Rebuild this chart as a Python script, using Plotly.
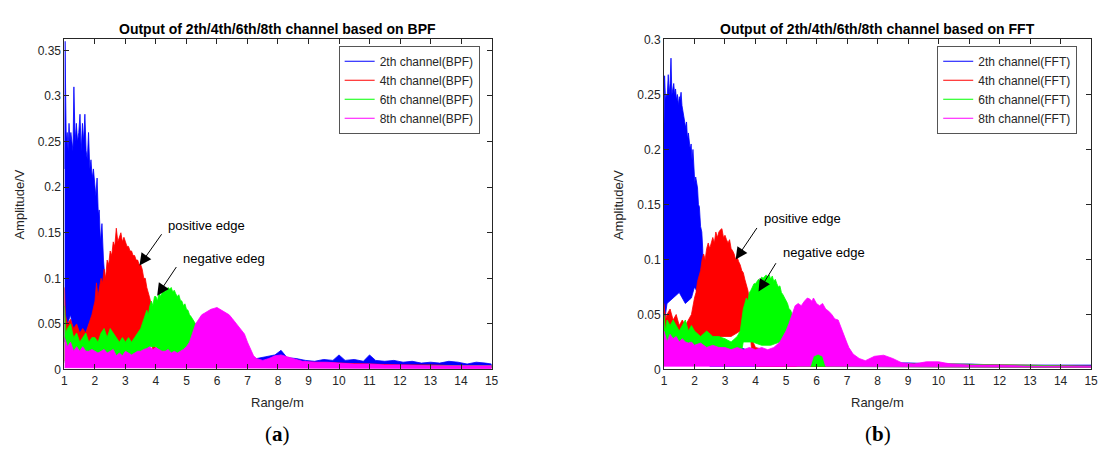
import plotly.graph_objects as go

# ---------------- data ----------------
# (a) BPF ---------------------------------------------------
bpf_ch2_x = [1.00,1.02,1.04,1.06,1.09,1.12,1.15,1.18,1.21,1.25,
             1.28,1.31,1.35,1.39,1.43,1.47,1.51,1.55,1.59,1.63,
             1.67,1.71,1.75,1.79,1.83,1.87,1.91,1.95,1.99,2.03,
             2.07,2.11,2.14,2.18,2.23,2.28,2.35,2.50,2.80,3.20,
             3.60,4.00,4.50,5.00,5.50,6.00,6.50,7.00,7.30,7.60,
             7.90,8.10,8.30,8.60,8.90,9.20,9.50,9.80,10.0,10.2,
             10.5,10.8,11.0,11.2,11.5,11.8,12.1,12.4,12.7,13.0,
             13.3,13.6,13.9,14.2,14.5,14.8,15.0]
bpf_ch2_hi = [.22,.36,.30,.25,.26,.24,.27,.25,.26,.25,
              .24,.31,.25,.27,.25,.26,.28,.24,.27,.25,
              .28,.24,.23,.26,.22,.23,.21,.22,.20,.19,
              .21,.17,.175,.14,.16,.12,.09,.06,.04,.03,
              .025,.02,.015,.012,.010,.010,.010,.009,.012,.014,
              .016,.021,.013,.012,.010,.009,.011,.010,.016,.010,
              .011,.009,.016,.010,.009,.010,.008,.009,.007,.008,
              .007,.009,.008,.006,.008,.007,.006]
bpf_ch2_lo_x = [1.0,1.1,1.2,1.3,1.4,1.5,1.6,1.7,1.8,1.9,2.0,2.1,2.2,2.3,2.5,15.0]
bpf_ch2_lo = [.03,.05,.06,.04,.05,.03,.02,.04,.05,.05,.06,.05,.04,.02,.003,.003]

bpf_ch4_x = [1.00,1.03,1.10,1.20,1.30,1.40,1.50,1.60,1.70,1.80,
             1.90,2.00,2.05,2.10,2.15,2.20,2.25,2.30,2.35,2.40,
             2.45,2.50,2.55,2.60,2.65,2.70,2.75,2.80,2.85,2.90,
             2.95,3.00,3.05,3.10,3.15,3.20,3.25,3.30,3.35,3.40,
             3.45,3.50,3.55,3.60,3.65,3.70,3.75,3.80,3.85,3.90,
             3.95,4.20,4.60,5.00,5.50,6.00,6.10,6.50,7.00,7.50,
             8.00,8.50,9.00,10.0,11.0,12.0,13.0,14.0,15.0]
bpf_ch4_hi = [.09,.06,.05,.055,.045,.05,.04,.045,.04,.05,
              .06,.075,.095,.08,.09,.10,.095,.11,.10,.12,
              .115,.13,.125,.14,.135,.155,.14,.145,.15,.14,
              .145,.14,.135,.135,.13,.13,.125,.125,.12,.12,
              .115,.115,.11,.10,.10,.09,.085,.078,.07,.05,
              .025,.018,.014,.012,.010,.012,.018,.010,.008,.007,
              .012,.009,.008,.007,.006,.005,.005,.004,.004]
bpf_ch4_lo_x = [1.0,1.5,2.0,2.2,2.5,2.8,3.0,3.2,3.4,3.6,3.8,3.9,4.0,15.0]
bpf_ch4_lo = [.01,.005,.01,.03,.02,.015,.015,.02,.03,.04,.05,.02,.003,.002]

bpf_ch6_x = [1.00,1.05,1.10,1.20,1.30,1.40,1.50,1.60,1.70,1.80,
             1.90,2.00,2.10,2.20,2.30,2.40,2.50,2.60,2.70,2.80,
             2.90,3.00,3.10,3.20,3.30,3.40,3.50,3.55,3.60,3.65,
             3.70,3.75,3.80,3.85,3.90,3.95,4.00,4.05,4.10,4.15,
             4.20,4.25,4.30,4.35,4.40,4.45,4.50,4.55,4.60,4.65,
             4.70,4.75,4.80,4.85,4.90,4.95,5.00,5.05,5.10,5.15,
             5.20,5.25,5.30,5.35,5.50,6.00,6.50,7.00,7.50,8.00,
             8.50,9.00,10.0,11.0,12.0,13.0,14.0,15.0]
bpf_ch6_hi = [.07,.04,.045,.05,.035,.04,.03,.035,.04,.03,
              .035,.035,.03,.04,.045,.035,.045,.04,.035,.03,
              .035,.03,.035,.03,.035,.04,.045,.05,.055,.06,
              .065,.06,.07,.075,.07,.08,.08,.075,.085,.08,
              .085,.088,.085,.088,.09,.088,.09,.085,.087,.083,
              .08,.082,.076,.075,.07,.072,.066,.065,.06,.058,
              .055,.052,.05,.025,.012,.01,.008,.006,.008,.01,
              .006,.005,.005,.004,.004,.004,.004,.004]
bpf_ch6_lo_x = [1.0,3.5,3.6,3.8,4.0,4.3,4.5,4.8,5.0,5.2,5.3,5.4,15.0]
bpf_ch6_lo = [.008,.008,.02,.025,.025,.015,.012,.015,.02,.03,.02,.003,.002]

bpf_ch8_x = [1.00,1.05,1.10,1.20,1.30,1.40,1.50,1.60,1.70,1.80,
             1.90,2.00,2.10,2.20,2.30,2.40,2.50,2.60,2.70,2.80,
             2.90,3.00,3.10,3.20,3.30,3.40,3.50,3.60,3.70,3.80,
             3.90,4.00,4.10,4.20,4.30,4.40,4.50,4.60,4.70,4.80,
             4.90,5.00,5.10,5.20,5.30,5.40,5.50,5.60,5.70,5.80,
             5.90,6.00,6.10,6.20,6.30,6.40,6.50,6.60,6.70,6.80,
             6.90,7.00,7.10,7.20,7.30,7.50,7.70,7.90,8.10,8.30,
             8.50,8.80,9.20,9.60,10.0,10.5,11.0,11.5,12.0,13.0,
             14.0,15.0]
bpf_ch8_hi = [.035,.03,.025,.03,.02,.025,.02,.025,.02,.02,
              .022,.02,.018,.02,.022,.018,.02,.022,.015,.018,
              .015,.02,.018,.016,.018,.02,.02,.022,.023,.025,
              .022,.024,.022,.02,.02,.022,.018,.02,.018,.02,
              .022,.025,.03,.04,.05,.055,.06,.062,.064,.066,
              .067,.068,.066,.064,.062,.06,.056,.052,.048,.044,
              .039,.03,.022,.015,.012,.01,.012,.015,.016,.014,
              .012,.009,.008,.008,.007,.006,.006,.005,.005,.004,
              .004,.004]
bpf_ch8_lo_x = [1.0, 15.0]
bpf_ch8_lo = [.002, .001]

# (b) FFT ---------------------------------------------------
fft_ch2_x = [1.00,1.02,1.05,1.08,1.11,1.14,1.17,1.20,1.23,1.26,
             1.29,1.32,1.35,1.38,1.41,1.44,1.47,1.50,1.53,1.56,
             1.59,1.62,1.65,1.68,1.71,1.74,1.77,1.80,1.83,1.86,
             1.89,1.92,1.95,1.98,2.01,2.04,2.07,2.10,2.13,2.16,
             2.20,2.24,2.27,2.31,2.40,2.60,3.00,3.50,4.00,4.50,
             5.00,5.50,6.00,6.50,7.00,8.00,9.00,10.0,11.0,12.0,
             13.0,14.0,15.0]
fft_ch2_hi = [.22,.267,.245,.25,.25,.268,.25,.26,.283,.25,
              .255,.26,.25,.255,.245,.25,.24,.248,.245,.252,
              .24,.235,.23,.225,.22,.225,.21,.215,.205,.2,
              .205,.19,.2,.185,.17,.175,.17,.165,.15,.148,
              .13,.125,.11,.06,.04,.03,.025,.02,.015,.012,
              .01,.009,.008,.008,.007,.006,.006,.005,.005,.004,
              .004,.004,.004]
fft_ch2_lo_x = [1.0,1.1,1.3,1.5,1.7,1.9,2.0,2.1,2.2,2.3,2.5,15.0]
fft_ch2_lo = [.04,.06,.065,.07,.06,.065,.075,.07,.08,.03,.003,.002]

fft_ch4_x = [1.00,1.05,1.10,1.20,1.30,1.40,1.50,1.60,1.70,1.80,
             1.90,2.00,2.05,2.10,2.15,2.20,2.25,2.30,2.35,2.40,
             2.45,2.50,2.55,2.60,2.65,2.70,2.75,2.80,2.85,2.90,
             2.95,3.00,3.05,3.10,3.15,3.20,3.25,3.30,3.35,3.40,
             3.45,3.50,3.55,3.60,3.65,3.70,3.75,3.81,3.86,3.92,
             4.00,4.30,4.60,5.00,5.50,6.00,6.50,7.00,8.00,9.00,
             10.0,12.0,15.0]
fft_ch4_hi = [.06,.045,.05,.055,.045,.05,.04,.045,.04,.045,
              .05,.065,.07,.08,.085,.09,.10,.105,.10,.11,
              .115,.11,.115,.12,.115,.125,.12,.125,.127,.128,
              .12,.122,.118,.115,.118,.11,.108,.105,.10,.102,
              .098,.095,.09,.088,.082,.078,.072,.062,.04,.025,
              .02,.018,.015,.015,.012,.01,.008,.006,.006,.005,
              .005,.004,.003]
fft_ch4_lo_x = [1.0,2.0,2.1,2.3,2.6,2.9,3.2,3.5,3.7,3.8,3.9,4.0,15.0]
fft_ch4_lo = [.005,.01,.03,.03,.025,.03,.03,.035,.04,.04,.01,.003,.002]

fft_ch6_x = [1.00,1.05,1.10,1.20,1.30,1.40,1.50,1.60,1.70,1.80,
             1.90,2.00,2.20,2.40,2.60,2.80,3.00,3.20,3.40,3.50,
             3.55,3.60,3.65,3.70,3.75,3.80,3.85,3.90,3.95,4.00,
             4.05,4.10,4.15,4.20,4.25,4.30,4.35,4.40,4.45,4.50,
             4.55,4.60,4.65,4.70,4.75,4.80,4.85,4.90,4.95,5.00,
             5.05,5.10,5.15,5.20,5.25,5.30,5.35,5.50,5.80,6.00,
             6.20,6.40,6.60,6.80,7.00,7.50,8.00,9.00,10.0,12.0,
             15.0]
fft_ch6_hi = [.05,.035,.045,.04,.045,.04,.035,.04,.045,.035,
              .04,.035,.03,.035,.03,.03,.028,.025,.03,.035,
              .045,.055,.06,.065,.062,.07,.072,.075,.078,.078,
              .08,.082,.08,.084,.083,.085,.086,.084,.086,.082,
              .085,.08,.082,.078,.075,.076,.07,.068,.065,.062,
              .06,.055,.054,.05,.048,.04,.02,.015,.018,.022,
              .02,.018,.015,.012,.01,.006,.006,.005,.005,.004,
              .003]
fft_ch6_lo_x = [1.0,3.5,3.6,3.9,4.2,4.5,4.8,5.0,5.25,5.35,15.0]
fft_ch6_lo = [.005,.01,.025,.025,.022,.022,.025,.03,.035,.003,.002]

fft_ch8_x = [1.00,1.05,1.10,1.20,1.30,1.40,1.50,1.60,1.70,1.80,
             1.90,2.00,2.20,2.40,2.60,2.80,3.00,3.20,3.40,3.60,
             3.80,4.00,4.20,4.40,4.60,4.80,4.90,5.00,5.10,5.20,
             5.30,5.40,5.50,5.60,5.70,5.78,5.85,5.90,6.00,6.10,
             6.20,6.30,6.40,6.50,6.60,6.71,6.80,6.90,7.00,7.06,
             7.20,7.40,7.60,7.90,8.20,8.50,8.80,9.20,9.60,10.0,
             10.4,11.0,12.0,13.0,14.0,15.0]
fft_ch8_hi = [.035,.03,.025,.032,.028,.03,.025,.028,.025,.024,
              .025,.022,.024,.02,.022,.02,.02,.018,.02,.018,
              .02,.018,.02,.018,.02,.025,.03,.035,.042,.05,
              .058,.06,.058,.062,.065,.064,.062,.065,.06,.058,
              .06,.055,.053,.05,.046,.045,.038,.03,.024,.02,
              .014,.01,.008,.012,.013,.01,.006,.005,.007,.007,
              .005,.004,.004,.003,.003,.003]
fft_ch8_lo_x = [1.0,5.8,5.9,6.05,6.2,6.3,15.0]
fft_ch8_lo = [.003,.003,.012,.014,.012,.003,.002]

x_ticks = list(range(1, 16))
names_bpf = ["2th channel(BPF)", "4th channel(BPF)", "6th channel(BPF)", "8th channel(BPF)"]
names_fft = ["2th channel(FFT)", "4th channel(FFT)", "6th channel(FFT)", "8th channel(FFT)"]
titles = ["Output of 2th/4th/6th/8th channel based on BPF",
          "Output of 2th/4th/6th/8th channel based on FFT"]
panel_labels = ["(<b>a</b>)", "(<b>b</b>)"]
colors = ["#0000ff", "#ff0000", "#00ff00", "#ff00ff"]

# ---------------- figure ----------------
W, H = 1107, 455
FONT = "Liberation Sans, Arial, sans-serif"
INK = "#262626"

fig = go.Figure()

panels = [
    ("x", "y", "legend", names_bpf, [
        (bpf_ch2_x, bpf_ch2_hi, bpf_ch2_lo_x, bpf_ch2_lo),
        (bpf_ch4_x, bpf_ch4_hi, bpf_ch4_lo_x, bpf_ch4_lo),
        (bpf_ch6_x, bpf_ch6_hi, bpf_ch6_lo_x, bpf_ch6_lo),
        (bpf_ch8_x, bpf_ch8_hi, bpf_ch8_lo_x, bpf_ch8_lo)]),
    ("x2", "y2", "legend2", names_fft, [
        (fft_ch2_x, fft_ch2_hi, fft_ch2_lo_x, fft_ch2_lo),
        (fft_ch4_x, fft_ch4_hi, fft_ch4_lo_x, fft_ch4_lo),
        (fft_ch6_x, fft_ch6_hi, fft_ch6_lo_x, fft_ch6_lo),
        (fft_ch8_x, fft_ch8_hi, fft_ch8_lo_x, fft_ch8_lo)]),
]

for xa, ya, leg, names, series in panels:
    for (hx, hy, lx, ly), c, nm in zip(series, colors, names):
        assert len(hx) == len(hy) and len(lx) == len(ly)
        fig.add_trace(go.Scatter(
            x=list(hx) + list(lx)[::-1], y=list(hy) + list(ly)[::-1],
            mode="lines", fill="toself", fillcolor=c,
            line=dict(color=c, width=0.8), showlegend=False,
            hoverinfo="skip", xaxis=xa, yaxis=ya))
    for c, nm in zip(colors, names):
        fig.add_trace(go.Scatter(
            x=[None], y=[None], mode="lines", name=nm,
            line=dict(color=c, width=1.2), legend=leg,
            xaxis=xa, yaxis=ya))

def px_x(p):
    return p / W

def px_y(p):
    return 1 - p / H

dom_l = [px_x(62), px_x(493)]
dom_r = [px_x(667), px_x(1098)]
dom_y = [px_y(374), px_y(33.5)]

axis_common = dict(showline=True, linecolor=INK, linewidth=1, mirror="ticks",
                   ticks="inside", ticklen=5, tickcolor=INK, tickwidth=1,
                   showgrid=False, zeroline=False,
                   tickfont=dict(family=FONT, size=12, color=INK))

fig.update_layout(
    width=W, height=H, autosize=False,
    margin=dict(l=0, r=0, t=0, b=0),
    paper_bgcolor="white", plot_bgcolor="white",
    font=dict(family=FONT, size=12, color=INK),
    xaxis=dict(domain=dom_l, range=[1, 15], tickvals=x_ticks, anchor="y", **axis_common),
    yaxis=dict(domain=dom_y, range=[0, 0.362], dtick=0.05, anchor="x", **axis_common),
    xaxis2=dict(domain=dom_r, range=[1, 15], tickvals=x_ticks, anchor="y2", **axis_common),
    yaxis2=dict(domain=dom_y, range=[0, 0.3], dtick=0.05, anchor="x2", **axis_common),
    legend=dict(x=px_x(481), xanchor="right", y=px_y(40), yanchor="top",
                bgcolor="white", bordercolor="#555555", borderwidth=1,
                font=dict(family=FONT, size=12, color=INK), tracegroupgap=0),
    legend2=dict(x=px_x(1084), xanchor="right", y=px_y(40), yanchor="top",
                 bgcolor="white", bordercolor="#555555", borderwidth=1,
                 font=dict(family=FONT, size=12, color=INK), tracegroupgap=0),
)

ann = []
centers = [(62 + 493) / 2, (667 + 1098) / 2]
ylab_x = [17, 621]
for i in range(2):
    ann.append(dict(text="<b>%s</b>" % titles[i], xref="paper", yref="paper",
                    x=px_x(centers[i]), y=px_y(23), xanchor="center", yanchor="middle",
                    showarrow=False, font=dict(family=FONT, size=14, color="black")))
    ann.append(dict(text="Range/m", xref="paper", yref="paper",
                    x=px_x(centers[i]), y=px_y(408), xanchor="center", yanchor="middle",
                    showarrow=False, font=dict(family=FONT, size=13, color=INK)))
    ann.append(dict(text="Amplitude/V", xref="paper", yref="paper", textangle=-90,
                    x=px_x(ylab_x[i]), y=px_y(204), xanchor="center", yanchor="middle",
                    showarrow=False, font=dict(family=FONT, size=13, color=INK)))
    ann.append(dict(text=panel_labels[i], xref="paper", yref="paper",
                    x=px_x(centers[i]), y=px_y(441), xanchor="center", yanchor="middle",
                    showarrow=False,
                    font=dict(family="Liberation Serif, DejaVu Serif, serif", size=21, color="black")))

# edge labels and arrows (data coordinates)
edge_notes = [
    ("x", "y", "positive edge", 5.67, 0.158, (3.46, 0.114), (4.22, 0.150)),
    ("x", "y", "negative edeg", 6.22, 0.122, (4.04, 0.081), (4.70, 0.114)),
    ("x2", "y2", "positive edge", 5.54, 0.137, (3.35, 0.100), (4.08, 0.130)),
    ("x2", "y2", "negative edge", 6.24, 0.106, (4.10, 0.071), (4.70, 0.098)),
]
for xr, yr, txt, tx, ty, head, tail in edge_notes:
    ann.append(dict(text=txt, xref=xr, yref=yr, x=tx, y=ty, xanchor="center",
                    yanchor="middle", showarrow=False,
                    font=dict(family=FONT, size=13, color="black")))
    ann.append(dict(text="", xref=xr, yref=yr, x=head[0], y=head[1],
                    axref=xr, ayref=yr, ax=tail[0], ay=tail[1],
                    showarrow=True, arrowhead=2, arrowsize=2.4, arrowwidth=1,
                    arrowcolor="black", standoff=0))

fig.update_layout(annotations=ann)
fig.write_html("out.html", config={"displayModeBar": False},
               post_script="document.body.style.margin='0';document.body.style.padding='0';")
